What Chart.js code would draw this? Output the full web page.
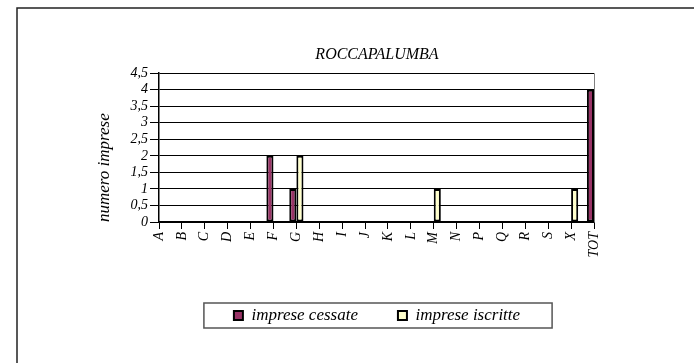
<!DOCTYPE html>
<html>
<head>
<meta charset="utf-8">
<script src="https://cdn.jsdelivr.net/npm/chart.js@4.4.1/dist/chart.umd.min.js"></script>
<style>
    body { margin: 0; background: #fff; }
    #pai-conteudo { width: 694px; height: 363px; position: relative; }
</style>
</head>
<body>
<div id="pai-conteudo">
    <canvas id="graficoImprese"></canvas>
</div>
<script>
const categorias = ["A", "B", "C", "D", "E", "F", "G", "H", "I", "J", "K", "L", "M", "N", "P", "Q", "R", "S", "X", "TOT"];
const impreseCessate = [0, null, 0, 0, null, 2, 1, 0, 0, 0, 0, null, 0, 0, null, null, 0, 0, 0, 4];
const impreseIscritte = [0, null, 0, 0, null, 0, 2, 0, 0, 0, 0, null, 1, 0, null, null, 0, 0, 1, null];
const ticksY = [0, 0.5, 1, 1.5, 2, 2.5, 3, 3.5, 4, 4.5];

const fonte = '"Liberation Serif", "Times New Roman", serif';

// moldura do grafico (so topo e esquerda aparecem)
const moldura = {
    id: 'moldura',
    beforeDraw(chart) {
        const c = chart.ctx;
        c.save();
        c.strokeStyle = '#222';
        c.lineWidth = 1.5;
        c.beginPath();
        c.moveTo(17, chart.height);
        c.lineTo(17, 8);
        c.lineTo(chart.width, 8);
        c.stroke();
        c.restore();
    },
    afterDraw(chart) {
        const c = chart.ctx;
        const area = chart.chartArea;
        c.save();
        // borda direita da area do grafico
        c.strokeStyle = '#808080';
        c.lineWidth = 1;
        c.beginPath();
        c.moveTo(area.right + 0.5, area.top);
        c.lineTo(area.right + 0.5, area.bottom);
        c.stroke();

        // caixa da legenda
        const caixas = chart.legend.legendHitBoxes;
        if (caixas && caixas.length) {
            const esq = Math.min(...caixas.map(b => b.left));
            const dir = Math.max(...caixas.map(b => b.left + b.width));
            const meio = (Math.min(...caixas.map(b => b.top)) + Math.max(...caixas.map(b => b.top + b.height))) / 2;
            c.strokeStyle = '#555';
            c.lineWidth = 1.5;
            c.strokeRect(esq - 30, meio - 12.5, dir - esq + 62, 25);
        }
        c.restore();
    }
};

function plotarGrafico() {
    const ctx = document.getElementById('graficoImprese').getContext('2d');

    window.meuGrafico = new Chart(ctx, {
        type: 'bar',
        data: {
            labels: categorias,
            datasets: [{
                label: 'imprese cessate',
                data: impreseCessate,
                backgroundColor: '#993366',
                borderColor: '#000',
                borderWidth: 2,
                borderSkipped: false,
                minBarLength: 1
            }, {
                label: 'imprese iscritte',
                data: impreseIscritte,
                backgroundColor: '#FFFFCC',
                borderColor: '#000',
                borderWidth: 2,
                borderSkipped: false,
                minBarLength: 1
            }]
        },
        options: {
            responsive: true,
            maintainAspectRatio: false,
            animation: false,
            categoryPercentage: 0.62,
            barPercentage: 1,
            layout: {
                padding: { top: 45, left: 85, right: 25, bottom: 29 }
            },
            scales: {
                x: {
                    offset: false,
                    ticks: {
                        color: '#000',
                        maxRotation: 90,
                        minRotation: 90,
                        autoSkip: false,
                        padding: 3,
                        font: { family: fonte, style: 'italic', size: 14 }
                    },
                    grid: {
                        offset: false,
                        drawOnChartArea: false,
                        color: '#000',
                        tickLength: 7
                    },
                    border: { color: '#000', width: 1.5 },
                    afterFit: function (scale) { scale.height = 45; }
                },
                y: {
                    min: 0,
                    max: 4.5,
                    afterBuildTicks: function (scale) {
                        scale.ticks = ticksY.map(v => ({ value: v }));
                    },
                    ticks: {
                        color: '#000',
                        padding: 2,
                        autoSkip: false,
                        callback: v => String(v).replace('.', ','),
                        font: { family: fonte, style: 'italic', size: 14 }
                    },
                    grid: {
                        color: '#000',
                        tickLength: 9
                    },
                    border: { color: '#000', width: 1.5 },
                    title: {
                        display: true,
                        text: 'numero imprese',
                        color: '#000',
                        align: 'start',
                        padding: { top: 9, bottom: 0 },
                        font: { family: fonte, style: 'italic', size: 17 }
                    },
                    afterFit: function (scale) { scale.width = 74; }
                },
                // eixo vazio a direita so para centralizar titulo e legenda
                direita: {
                    position: 'right',
                    type: 'linear',
                    display: true,
                    grid: { display: false },
                    border: { display: false },
                    ticks: { display: false },
                    afterFit: function (scale) { scale.width = 75; }
                }
            },
            plugins: {
                legend: {
                    position: 'bottom',
                    labels: {
                        color: '#000',
                        boxWidth: 9,
                        boxHeight: 9,
                        padding: 40,
                        font: { family: fonte, style: 'italic', size: 17 }
                    }
                },
                tooltip: { enabled: false },
                title: {
                    display: true,
                    text: 'ROCCAPALUMBA',
                    color: '#000',
                    padding: { top: 0, bottom: 9 },
                    font: { family: fonte, style: 'italic', weight: 'normal', size: 16 }
                }
            }
        },
        plugins: [moldura]
    });
}

plotarGrafico();
</script>
</body>
</html>
